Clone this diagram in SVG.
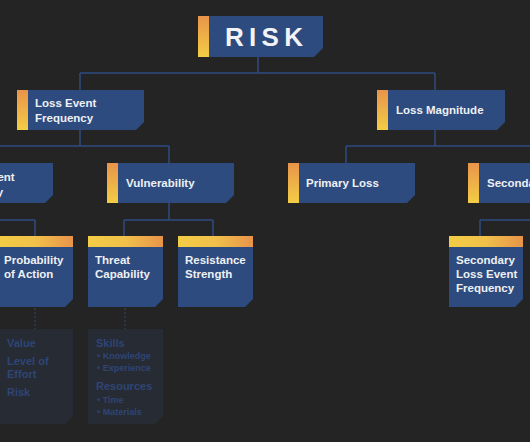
<svg xmlns="http://www.w3.org/2000/svg" width="530" height="442" viewBox="0 0 530 442">
<defs>
<linearGradient id="gSide" x1="0" y1="0" x2="0" y2="1"><stop offset="0" stop-color="#e8944a"/><stop offset="1" stop-color="#f3cd45"/></linearGradient>
<linearGradient id="gTop" x1="0" y1="0" x2="1" y2="0"><stop offset="0" stop-color="#f3cd45"/><stop offset="0.5" stop-color="#f1c04a"/><stop offset="1" stop-color="#e8944a"/></linearGradient>
<style>
.box{fill:#2d4b7e}
.lbl{font-family:"Liberation Sans",Arial,sans-serif;font-weight:bold;font-size:11.5px;fill:#eef0f4}
.con{stroke:#2e4b80;stroke-width:1.5;fill:none}
.dash{stroke:#34486a;stroke-width:1;stroke-dasharray:2 2;fill:none}
.dim{fill:#272b33}
.dh{font-family:"Liberation Sans",Arial,sans-serif;font-weight:bold;font-size:11px;fill:#2e4576}
.db{font-family:"Liberation Sans",Arial,sans-serif;font-weight:bold;font-size:9px;fill:#2e4576}
</style>
</defs>
<rect width="530" height="442" fill="#242424"/>
<g id="connectors">
<path class="con" d="M258 57V73M80 73H435M80 73V90M435 73V90"/>
<path class="con" d="M80 130V146M-10 146H169M169 146V163M-10 146V163"/>
<path class="con" d="M435 130V146M346 146H545M346 146V163"/>
<path class="con" d="M-5 220H35M35 220V236"/>
<path class="con" d="M169 203V220M124 220H213M124 220V236M213 220V236"/>
<path class="con" d="M480 220H545M480 220V236"/>
<path class="dash" d="M35 308V329M125 308V329"/>
</g>
<g id="risk">
<rect x="198" y="16" width="11" height="41" fill="url(#gSide)"/>
<path class="box" d="M209 16H323V48L314 57H209Z"/>
<text x="225" y="46" font-family="Liberation Sans,Arial,sans-serif" font-weight="bold" font-size="26" letter-spacing="5.3" fill="#f2f3f6">RISK</text>
</g>
<g id="lef">
<rect x="17" y="90" width="11" height="40" fill="url(#gSide)"/>
<path class="box" d="M28 90H144V122L136 130H28Z"/>
<text class="lbl" x="35" y="107">Loss Event</text>
<text class="lbl" x="35" y="122">Frequency</text>
</g>
<g id="lm">
<rect x="377" y="90" width="11" height="40" fill="url(#gSide)"/>
<path class="box" d="M388 90H505V122L497 130H388Z"/>
<text class="lbl" x="396" y="114">Loss Magnitude</text>
</g>
<g id="tef">
<rect x="-74" y="163" width="11" height="40" fill="url(#gSide)"/>
<path class="box" d="M-63 163H53V195L45 203H-63Z"/>
<text class="lbl" x="-55" y="181">Threat Event</text>
<text class="lbl" x="-55" y="196">Frequency</text>
</g>
<g id="vuln">
<rect x="107" y="163" width="11" height="40" fill="url(#gSide)"/>
<path class="box" d="M118 163H234V195L226 203H118Z"/>
<text class="lbl" x="126" y="187">Vulnerability</text>
</g>
<g id="pl">
<rect x="288" y="163" width="11" height="40" fill="url(#gSide)"/>
<path class="box" d="M299 163H415V195L407 203H299Z"/>
<text class="lbl" x="306" y="187">Primary Loss</text>
</g>
<g id="sl">
<rect x="468" y="163" width="11" height="40" fill="url(#gSide)"/>
<path class="box" d="M479 163H595V195L587 203H479Z"/>
<text class="lbl" x="487" y="187">Secondary Loss</text>
</g>
<g id="poa">
<rect x="-2" y="236" width="75" height="11" fill="url(#gTop)"/>
<path class="box" d="M-2 247H73V299L65 307H-2Z"/>
<text class="lbl" x="4" y="264">Probability</text>
<text class="lbl" x="4" y="278">of Action</text>
</g>
<g id="tc">
<rect x="88" y="236" width="75" height="11" fill="url(#gTop)"/>
<path class="box" d="M88 247H163V299L155 307H88Z"/>
<text class="lbl" x="95" y="264">Threat</text>
<text class="lbl" x="95" y="278">Capability</text>
</g>
<g id="rs">
<rect x="178" y="236" width="75" height="11" fill="url(#gTop)"/>
<path class="box" d="M178 247H253V299L245 307H178Z"/>
<text class="lbl" x="185" y="264">Resistance</text>
<text class="lbl" x="185" y="278">Strength</text>
</g>
<g id="slef">
<rect x="449" y="236" width="74" height="11" fill="url(#gTop)"/>
<path class="box" d="M449 247H523V299L515 307H449Z"/>
<text class="lbl" x="456" y="264">Secondary</text>
<text class="lbl" x="456" y="278">Loss Event</text>
<text class="lbl" x="456" y="292">Frequency</text>
</g>
<g id="poa-detail">
<path class="dim" d="M-2 329H73V416L65 424H-2Z"/>
<text class="dh" x="7" y="347">Value</text>
<text class="dh" x="7" y="365">Level of</text>
<text class="dh" x="7" y="378">Effort</text>
<text class="dh" x="7" y="396">Risk</text>
</g>
<g id="tc-detail">
<path class="dim" d="M88 329H163V416L155 424H88Z"/>
<text class="dh" x="96" y="347">Skills</text>
<text class="db" x="97" y="359">• Knowledge</text>
<text class="db" x="97" y="371">• Experience</text>
<text class="dh" x="96" y="390">Resources</text>
<text class="db" x="97" y="403">• Time</text>
<text class="db" x="97" y="415">• Materials</text>
</g>
</svg>
